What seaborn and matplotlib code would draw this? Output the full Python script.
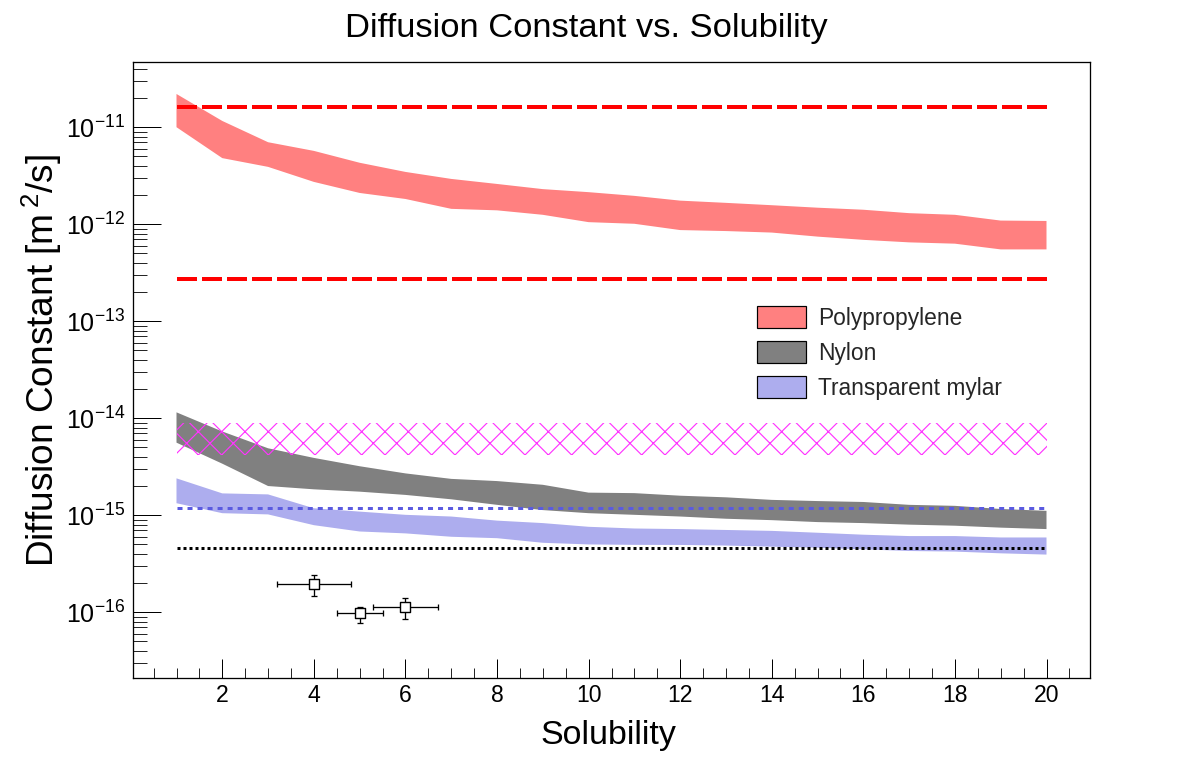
import numpy as np
import pandas as pd
import matplotlib
matplotlib.use('Agg')
import matplotlib.pyplot as plt
import seaborn as sns
from matplotlib.patches import Patch
from matplotlib.ticker import FixedLocator, LogLocator, MultipleLocator, NullFormatter

# Datos
solubility = list(range(1, 21))

pp_hi = [2.2e-11, 1.16e-11, 7.0e-12, 5.7e-12, 4.3e-12, 3.46e-12, 2.93e-12, 2.6e-12, 2.3e-12, 2.14e-12,
         1.96e-12, 1.75e-12, 1.66e-12, 1.57e-12, 1.48e-12, 1.41e-12, 1.30e-12, 1.25e-12, 1.09e-12, 1.08e-12]
pp_lo = [1.0e-11, 4.8e-12, 3.9e-12, 2.73e-12, 2.1e-12, 1.82e-12, 1.44e-12, 1.39e-12, 1.25e-12, 1.05e-12,
         1.01e-12, 8.7e-13, 8.5e-13, 8.2e-13, 7.45e-13, 6.9e-13, 6.5e-13, 6.3e-13, 5.5e-13, 5.5e-13]

nylon_hi = [1.15e-14, 7.3e-15, 4.9e-15, 3.9e-15, 3.2e-15, 2.7e-15, 2.37e-15, 2.25e-15, 2.06e-15, 1.71e-15,
            1.69e-15, 1.59e-15, 1.53e-15, 1.44e-15, 1.40e-15, 1.37e-15, 1.28e-15, 1.25e-15, 1.16e-15, 1.11e-15]
nylon_lo = [5.6e-15, 3.4e-15, 2.0e-15, 1.85e-15, 1.75e-15, 1.62e-15, 1.46e-15, 1.28e-15, 1.13e-15, 1.05e-15,
            1.01e-15, 9.7e-16, 9.2e-16, 8.9e-16, 8.5e-16, 8.3e-16, 8.0e-16, 7.8e-16, 7.45e-16, 7.2e-16]

mylar_hi = [2.4e-15, 1.68e-15, 1.64e-15, 1.18e-15, 1.09e-15, 1.01e-15, 9.7e-16, 8.8e-16, 8.3e-16, 7.6e-16,
            7.3e-16, 7.2e-16, 7.05e-16, 6.9e-16, 6.6e-16, 6.3e-16, 6.1e-16, 6.1e-16, 5.9e-16, 5.9e-16]
mylar_lo = [1.33e-15, 1.05e-15, 1.02e-15, 7.9e-16, 6.8e-16, 6.5e-16, 6.0e-16, 5.8e-16, 5.2e-16, 5.0e-16,
            4.95e-16, 4.94e-16, 4.87e-16, 4.74e-16, 4.63e-16, 4.45e-16, 4.28e-16, 4.22e-16, 4.05e-16, 3.93e-16]

# Bandas y lineas de referencia constantes
magenta_lo = 4.2e-15
magenta_hi = 9.0e-15
red_ref_hi = 1.62e-11
red_ref_lo = 2.7e-13
blue_ref = 1.18e-15
black_ref = 4.6e-16

# Mediciones con errores
meas_x = [4, 5, 6]
meas_xerr = [0.8, 0.5, 0.7]
meas_y = [1.95e-16, 9.8e-17, 1.13e-16]
meas_y_up = [2.4e-16, 1.14e-16, 1.41e-16]
meas_y_down = [1.46e-16, 7.7e-17, 8.5e-17]

materiales = ['Polypropylene', 'Nylon', 'Transparent mylar']
decadas = [-16, -15, -14, -13, -12, -11]

DPI = 140


def px(p):
    return p * 72 / DPI


sns.set_theme(style='ticks')
plt.rcParams['font.family'] = ['Liberation Sans', 'DejaVu Sans']
plt.rcParams['mathtext.fontset'] = 'custom'
plt.rcParams['mathtext.rm'] = 'Liberation Sans'
plt.rcParams['mathtext.it'] = 'Liberation Sans:italic'
plt.rcParams['mathtext.bf'] = 'Liberation Sans:bold'
plt.rcParams['hatch.linewidth'] = 0.6

fig = plt.figure(figsize=(1196 / DPI, 772 / DPI), dpi=DPI)
ax = fig.add_axes([133 / 1196, 94 / 772, 957 / 1196, 616 / 772])

colores = ['#ff8080', '#808080', '#adadee']
bandas = [(pp_lo, pp_hi), (nylon_lo, nylon_hi), (mylar_lo, mylar_hi)]
for (lo, hi), c in zip(bandas, colores):
    ax.fill_between(solubility, lo, hi, facecolor=c, edgecolor='none', lw=0, zorder=1)

x_ends = [solubility[0], solubility[-1]]
ax.fill_between(x_ends, [magenta_lo] * 2, [magenta_hi] * 2, facecolor='none',
                edgecolor='#ff33ff', hatch='xx', lw=0, zorder=2)

ax.plot(x_ends, [red_ref_hi] * 2, color='red', lw=px(4), dashes=(5, 1.25), dash_capstyle='butt', zorder=3)
ax.plot(x_ends, [red_ref_lo] * 2, color='red', lw=px(4), dashes=(5, 1.25), dash_capstyle='butt', zorder=3)
ax.plot(x_ends, [blue_ref] * 2, color='#5a5ae0', lw=px(3), dashes=(1.67, 1.67), dash_capstyle='butt', zorder=3)
ax.plot(x_ends, [black_ref] * 2, color='black', lw=px(3), dashes=(1, 1), dash_capstyle='butt', zorder=3)

yerr = [np.array(meas_y) - np.array(meas_y_down), np.array(meas_y_up) - np.array(meas_y)]
ax.errorbar(meas_x, meas_y, xerr=meas_xerr, yerr=yerr, fmt='none', ecolor='black',
            elinewidth=px(1.3), capsize=px(3), capthick=px(1.3), zorder=4)
sns.scatterplot(x=meas_x, y=meas_y, marker='s', s=px(9) ** 2, color='white', edgecolor='black',
                linewidth=px(1.4), ax=ax, zorder=5, legend=False)

ax.set_yscale('log')
ax.set_xlim(0.05, 20.95)
ax.set_ylim(2.1e-17, 4.7e-11)
ax.xaxis.set_major_locator(MultipleLocator(2))
ax.xaxis.set_minor_locator(MultipleLocator(0.5))
ax.yaxis.set_major_locator(FixedLocator([10.0 ** d for d in decadas]))
ax.yaxis.set_minor_locator(LogLocator(base=10, subs=np.arange(2, 10), numticks=20))
ax.yaxis.set_minor_formatter(NullFormatter())

ax.tick_params(axis='x', which='major', direction='in', length=px(19), width=px(1), labelsize=px(23),
               pad=px(6), top=False, color='black', labelcolor='black')
ax.tick_params(axis='x', which='minor', direction='in', length=px(10), width=px(1), top=False)
ax.tick_params(axis='y', which='major', direction='in', length=px(28), width=px(1), labelsize=px(25),
               pad=px(8), right=False, color='black', labelcolor='black')
ax.tick_params(axis='y', which='minor', direction='in', length=px(14), width=px(1), right=False)
for s in ax.spines.values():
    s.set_color('black')
    s.set_linewidth(px(1.3))

ax.set_xlabel('Solubility', fontsize=px(34), color='black')
ax.xaxis.set_label_coords(0.497, -0.068)
ax.set_ylabel(r'Diffusion Constant [m$\,^{2}$/s]', fontsize=px(37), color='black')
ax.yaxis.set_label_coords(-0.072, 0.515)

fig.text(586 / 1196, 1 - 37 / 772, 'Diffusion Constant vs. Solubility', ha='center', va='baseline',
         fontsize=px(34.5), color='black')

handles = [Patch(facecolor=c, edgecolor='black', lw=px(1.2), label=m) for c, m in zip(colores, materiales)]
ax.legend(handles=handles, loc='upper left', bbox_to_anchor=(0.652, 0.604), frameon=False,
          fontsize=px(22.7), handlelength=2.16, handleheight=1.15, handletextpad=0.53,
          labelspacing=0.48, borderpad=0, borderaxespad=0)

fig.savefig('out.png', dpi=DPI)
